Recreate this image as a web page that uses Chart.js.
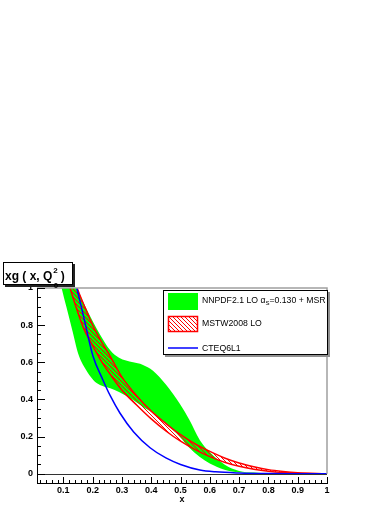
<!DOCTYPE html>
<html>
<head>
<meta charset="utf-8">
<script src="https://cdn.jsdelivr.net/npm/chart.js@4/dist/chart.umd.min.js"></script>
<style>
  body { margin: 0; background: #fff; }
</style>
</head>
<body>
<canvas id="grafico" width="392" height="508"></canvas>
<script>
// NNPDF2.1 LO band
const greenX = [0.08, 0.094, 0.11, 0.13, 0.151, 0.175, 0.202, 0.225, 0.26, 0.29, 0.338, 0.37, 0.406, 0.45, 0.498, 0.53, 0.566, 0.6, 0.65, 0.7, 0.75, 0.8, 0.9, 1.0];
const greenUpper = [1.35, 1.26, 1.16, 1.07, 0.985, 0.9, 0.815, 0.75, 0.665, 0.625, 0.6, 0.587, 0.555, 0.48, 0.375, 0.29, 0.18, 0.115, 0.05, 0.015, 0.006, 0.002, 0, 0];
const greenLower = [1.1, 1.0, 0.9, 0.775, 0.645, 0.565, 0.505, 0.478, 0.46, 0.44, 0.397, 0.362, 0.327, 0.27, 0.198, 0.14, 0.09, 0.055, 0.022, 0.008, 0.003, 0.001, 0, 0];

// MSTW2008 LO band
const redX = [0.1, 0.123, 0.147, 0.17, 0.2, 0.23, 0.26, 0.3, 0.35, 0.4, 0.45, 0.5, 0.55, 0.6, 0.65, 0.7, 0.75, 0.8, 0.85, 0.9, 0.95, 1.0];
const redUpper = [1.25, 1.12, 1.0, 0.91, 0.8, 0.71, 0.632, 0.52, 0.42, 0.337, 0.27, 0.21, 0.16, 0.12, 0.085, 0.058, 0.038, 0.022, 0.012, 0.005, 0.0015, 0];
const redLower = [1.14, 1.0, 0.88, 0.78, 0.69, 0.605, 0.535, 0.45, 0.37, 0.295, 0.23, 0.175, 0.13, 0.092, 0.062, 0.04, 0.024, 0.013, 0.006, 0.002, 0.0005, 0];

// CTEQ6L1
const blueX = [0.12, 0.146, 0.17, 0.201, 0.235, 0.26, 0.293, 0.34, 0.396, 0.45, 0.5, 0.566, 0.62, 0.7, 0.8, 0.9, 1.0];
const blueY = [1.17, 1.0, 0.84, 0.634, 0.505, 0.42, 0.327, 0.225, 0.14, 0.085, 0.05, 0.02, 0.01, 0.004, 0.001, 0.0002, 0];

const xTicks = [0.1, 0.2, 0.3, 0.4, 0.5, 0.6, 0.7, 0.8, 0.9, 1];
const yTicks = [0, 0.2, 0.4, 0.6, 0.8, 1];

const FONT = "'Liberation Sans', Arial, Helvetica, sans-serif";

function pontos(xs, ys) {
  return xs.map((x, i) => ({ x: x, y: ys[i] }));
}

const canvas = document.getElementById('grafico');
const ctx = canvas.getContext('2d');

// red "\\\" hatching
function hachura() {
  const c = document.createElement('canvas');
  c.width = 4; c.height = 4;
  const g = c.getContext('2d');
  g.strokeStyle = '#ff0000';
  g.lineWidth = 1;
  g.beginPath();
  g.moveTo(0, 0); g.lineTo(4, 4);
  g.moveTo(-1, 3); g.lineTo(1, 5);
  g.moveTo(3, -1); g.lineTo(5, 1);
  g.stroke();
  return ctx.createPattern(c, 'repeat');
}
const hatch = hachura();

const moldura = {
  id: 'moldura',
  afterDraw(chart) {
    const c = chart.ctx;
    const a = chart.chartArea;
    const x = chart.scales.x, y = chart.scales.y;
    const y0 = y.getPixelForValue(0);
    c.save();

    // frame top / right
    c.strokeStyle = '#a0a0a0';
    c.lineWidth = 1.5;
    c.beginPath();
    c.moveTo(a.left, a.top);
    c.lineTo(a.right, a.top);
    c.lineTo(a.right, y0);
    c.stroke();

    // zero line
    c.strokeStyle = '#333';
    c.lineWidth = 1;
    c.beginPath();
    c.moveTo(a.left, Math.round(y0) + 0.5);
    c.lineTo(a.right, Math.round(y0) + 0.5);
    c.stroke();

    // inner ticks
    c.strokeStyle = '#000';
    c.beginPath();
    for (let i = 0; i <= 20; i++) {
      const py = Math.round(y.getPixelForValue(i * 0.05)) + 0.5;
      c.moveTo(a.left, py);
      c.lineTo(a.left + (i % 4 === 0 ? 8 : 4), py);
    }
    for (let i = 1; i <= 50; i++) {
      const px = Math.round(x.getPixelForValue(i * 0.02)) + 0.5;
      c.moveTo(px, a.bottom);
      c.lineTo(px, a.bottom - (i % 5 === 0 ? 6 : 3));
    }
    c.stroke();

    // legend
    c.fillStyle = '#909090';
    c.fillRect(165, 292, 165, 65);
    c.fillStyle = '#fff';
    c.fillRect(163, 290, 165, 65);
    c.strokeStyle = '#000';
    c.lineWidth = 1;
    c.strokeRect(163.5, 290.5, 164, 64);

    c.fillStyle = '#00ff00';
    c.fillRect(168, 293, 30, 17);
    c.fillStyle = hatch;
    c.fillRect(168, 316, 30, 16);
    c.strokeStyle = '#ff0000';
    c.lineWidth = 1.5;
    c.strokeRect(168.5, 316.5, 29, 15);
    c.strokeStyle = '#0000ff';
    c.beginPath();
    c.moveTo(168, 348);
    c.lineTo(198, 348);
    c.stroke();

    c.fillStyle = '#000';
    c.textBaseline = 'alphabetic';
    c.textAlign = 'left';
    c.font = '8.7px ' + FONT;
    let tx = 202;
    const t1 = 'NNPDF2.1 LO \u03b1';
    c.fillText(t1, tx, 303);
    tx += c.measureText(t1).width;
    c.font = '6px ' + FONT;
    c.fillText('S', tx, 305);
    tx += c.measureText('S').width;
    c.font = '8.7px ' + FONT;
    c.fillText('=0.130 + MSR', tx, 303);
    c.fillText('MSTW2008 LO', 202, 326);
    c.fillText('CTEQ6L1', 202, 351);

    // title box
    c.fillStyle = '#222';
    c.fillRect(5, 264, 70, 23);
    c.fillStyle = '#fff';
    c.fillRect(3, 262, 70, 23);
    c.strokeStyle = '#000';
    c.lineWidth = 1;
    c.strokeRect(3.5, 262.5, 69, 22);
    c.fillStyle = '#000';
    c.font = 'bold 12px ' + FONT;
    let bx = 5;
    const b1 = 'xg ( x, Q';
    c.fillText(b1, bx, 280);
    bx += c.measureText(b1).width + 1;
    c.font = 'bold 8px ' + FONT;
    c.fillText('2', bx, 273);
    c.fillText('0', bx + 0.5, 288);
    bx += c.measureText('2').width + 3;
    c.font = 'bold 12px ' + FONT;
    c.fillText(')', bx, 280);

    c.restore();
  }
};

const tickFont = { family: FONT, size: 9, weight: 'bold' };

const grafico = new Chart(canvas, {
  type: 'line',
  data: {
    datasets: [{
      label: 'NNPDF2.1 LO',
      data: pontos(greenX, greenUpper),
      borderColor: 'rgba(0,0,0,0)',
      borderWidth: 0,
      backgroundColor: '#00ff00',
      fill: '+1',
      order: 3
    }, {
      label: 'NNPDF2.1 LO low',
      data: pontos(greenX, greenLower),
      borderColor: 'rgba(0,0,0,0)',
      borderWidth: 0,
      fill: false,
      order: 3
    }, {
      label: 'MSTW2008 LO',
      data: pontos(redX, redUpper),
      borderColor: '#ff0000',
      borderWidth: 1.5,
      backgroundColor: hatch,
      fill: '+1',
      order: 2
    }, {
      label: 'MSTW2008 LO low',
      data: pontos(redX, redLower),
      borderColor: '#ff0000',
      borderWidth: 1.5,
      fill: false,
      order: 1.5
    }, {
      label: 'CTEQ6L1',
      data: pontos(blueX, blueY),
      borderColor: '#0000ff',
      borderWidth: 1.5,
      fill: false,
      order: 1
    }]
  },
  options: {
    responsive: false,
    animation: false,
    devicePixelRatio: 1,
    cubicInterpolationMode: 'monotone',
    elements: { point: { radius: 0 } },
    datasets: { line: { clip: 0 } },
    layout: { padding: { left: 0, top: 288, right: 65, bottom: 0 } },
    scales: {
      x: {
        type: 'linear',
        min: 0.01,
        max: 1,
        afterBuildTicks: s => { s.ticks = xTicks.map(v => ({ value: v })); },
        afterFit: s => { s.height = 25; },
        grid: { display: false, drawTicks: false },
        border: { display: true, color: '#000', width: 1 },
        ticks: {
          color: '#000',
          font: tickFont,
          padding: 2,
          maxRotation: 0,
          autoSkip: false,
          callback: v => v === 1 ? '1' : v.toFixed(1)
        },
        title: {
          display: true,
          text: 'x',
          color: '#000',
          font: tickFont,
          padding: { top: 3, bottom: 3 }
        }
      },
      y: {
        type: 'linear',
        min: -0.05,
        max: 1,
        afterBuildTicks: s => { s.ticks = yTicks.map(v => ({ value: v })); },
        afterFit: s => { s.width = 37; },
        grid: { display: false, drawTicks: false },
        border: { display: true, color: '#000', width: 1 },
        ticks: {
          color: '#000',
          font: tickFont,
          padding: 4,
          callback: v => (v === 0 || v === 1) ? String(v) : v.toFixed(1)
        }
      }
    },
    plugins: {
      legend: { display: false },
      tooltip: { enabled: false }
    }
  },
  plugins: [moldura]
});
</script>
</body>
</html>
